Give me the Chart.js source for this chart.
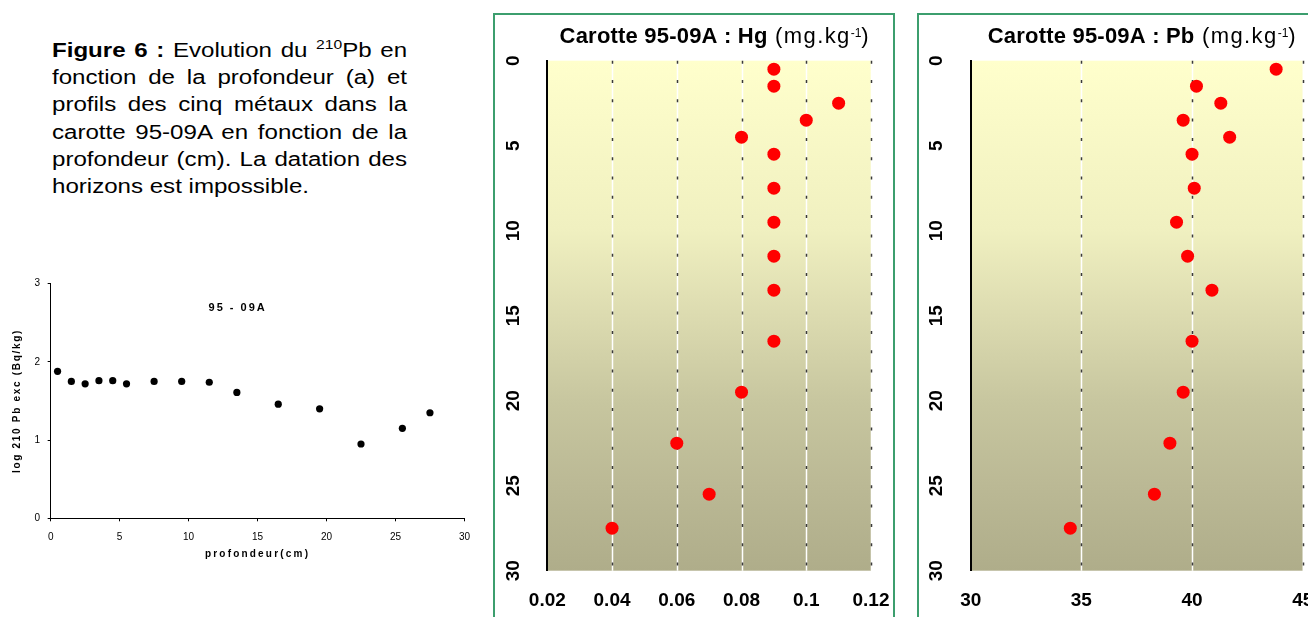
<!DOCTYPE html>
<html>
<head>
<meta charset="utf-8">
<script src="https://cdn.jsdelivr.net/npm/chart.js@4/dist/chart.umd.min.js"></script>
<style>
  html, body { margin: 0; padding: 0; background: #fff; }
  body { width: 1308px; height: 617px; position: relative; overflow: hidden;
         font-family: "Liberation Sans", Arial, sans-serif; color: #000; }
  .caption { position: absolute; left: 52px; top: 37px; width: 287.5px;
             font-size: 19.5px; line-height: 27.2px;
             transform: scaleX(1.235); transform-origin: 0 0; }
  .caption .j { text-align: justify; text-align-last: justify; }
  .caption sup { font-size: 0.65em; line-height: 0; vertical-align: 0; position: relative; top: -0.62em; }
  .box { position: absolute; top: 13px; height: 640px; border: 2px solid #3c9e6e; }
  canvas { position: absolute; }
</style>
</head>
<body>

<div class="caption">
  <div class="j"><b>Figure 6 :</b> Evolution du <sup>210</sup>Pb en</div>
  <div class="j">fonction de la profondeur (a) et</div>
  <div class="j">profils des cinq métaux dans la</div>
  <div class="j">carotte 95-09A en fonction de la</div>
  <div class="j">profondeur (cm). La datation des</div>
  <div>horizons est impossible.</div>
</div>

<canvas id="pb210" width="480" height="300" style="left:0;top:270px;"></canvas>

<div class="box" style="left:493px;width:398px;"></div>
<canvas id="hg" width="398" height="640" style="left:495px;top:15px;"></canvas>

<div class="box" style="left:917px;width:400px;"></div>
<canvas id="pb" width="400" height="640" style="left:919px;top:15px;"></canvas>

<script>
const FAMILY = "'Liberation Sans', Arial, sans-serif";
Chart.defaults.font.family = FAMILY;
Chart.defaults.color = '#000';

// sampling depths (cm), shared by all profiles of core 95-09A
const depth = [0.5, 1.5, 2.5, 3.5, 4.5, 5.5, 7.5, 9.5, 11.5, 13.5, 16.5, 19.5, 22.5, 25.5, 27.5];
// log of excess 210Pb activity (Bq/kg)
const logPb210 = [1.88, 1.75, 1.72, 1.76, 1.76, 1.72, 1.75, 1.75, 1.74, 1.61, 1.46, 1.40, 0.95, 1.15, 1.35];
// metal contents (mg/kg)
const hgValues = [0.09, 0.09, 0.11, 0.10, 0.08, 0.09, 0.09, 0.09, 0.09, 0.09, 0.09, 0.08, 0.06, 0.07, 0.04];
const pbValues = [43.8, 40.2, 41.3, 39.6, 41.7, 40.0, 40.1, 39.3, 39.8, 40.9, 40.0, 39.6, 39.0, 38.3, 34.5];

// tick values
const depthTicks = [0, 5, 10, 15, 20, 25, 30];
const logTicks = [0, 1, 2, 3];
const hgTicks = [0.02, 0.04, 0.06, 0.08, 0.1, 0.12];
const pbTicks = [30, 35, 40, 45];

const setTicks = values => scale => { scale.ticks = values.map(v => ({value: v})); };
const points = (xs, ys) => xs.map((x, i) => ({x: x, y: ys[i]}));

// yellow-to-olive plot background with white/dashed vertical grid
const profileBackground = {
  id: 'profileBackground',
  beforeDraw(chart) {
    const {ctx, chartArea: a, scales: {x}} = chart;
    ctx.save();
    const g = ctx.createLinearGradient(0, a.top, 0, a.bottom);
    g.addColorStop(0, '#ffffcc');
    g.addColorStop(0.33, '#f0f0c0');
    g.addColorStop(0.5, '#dcdbb0');
    g.addColorStop(0.67, '#c7c69f');
    g.addColorStop(0.83, '#bbb995');
    g.addColorStop(1, '#afad8a');
    ctx.fillStyle = g;
    ctx.fillRect(a.left, a.top, a.right - a.left, a.bottom - a.top);
    x.ticks.forEach(t => {
      if (t.value === x.min) return;
      const px = Math.round(x.getPixelForValue(t.value)) + 0.5;
      ctx.lineWidth = 1.5;
      ctx.strokeStyle = '#ffffff';
      ctx.setLineDash([]);
      ctx.beginPath(); ctx.moveTo(px, a.top); ctx.lineTo(px, a.bottom); ctx.stroke();
      ctx.strokeStyle = '#3a3a3a';
      ctx.setLineDash([3, 16.3]);
      ctx.beginPath(); ctx.moveTo(px, a.top); ctx.lineTo(px, a.bottom); ctx.stroke();
    });
    ctx.restore();
  }
};

// depth labels on the left, rotated to read upwards
const depthLabels = {
  id: 'depthLabels',
  afterDraw(chart) {
    const {ctx, chartArea: a, scales: {y}} = chart;
    ctx.save();
    ctx.font = 'bold 19px ' + FAMILY;
    ctx.fillStyle = '#000';
    ctx.textAlign = 'center';
    ctx.textBaseline = 'middle';
    depthTicks.forEach(v => {
      ctx.save();
      ctx.translate(a.left - 34, y.getPixelForValue(v));
      ctx.rotate(-Math.PI / 2);
      ctx.fillText(String(v), 0, 0);
      ctx.restore();
    });
    ctx.restore();
  }
};

// "Carotte 95-09A : Xx (mg.kg-1)" with bold core name and superscript unit
const panelTitle = {
  id: 'panelTitle',
  afterDraw(chart, args, opts) {
    const {ctx, chartArea: a} = chart;
    const parts = [
      {text: opts.text, font: 'bold 22px ' + FAMILY, dy: 0, ls: 0.2},
      {text: ' (mg.kg', font: '22px ' + FAMILY, dy: 0, ls: 1.4},
      {text: '-1', font: '12px ' + FAMILY, dy: -6, ls: 0},
      {text: ')', font: '22px ' + FAMILY, dy: 0, ls: 0}
    ];
    ctx.save();
    let w = 0;
    parts.forEach(p => {
      ctx.font = p.font;
      ctx.letterSpacing = p.ls + 'px';
      p.w = ctx.measureText(p.text).width;
      w += p.w;
    });
    let x = (a.left + a.right) / 2 + 5 - w / 2;
    const y = a.top - 17.4;
    ctx.fillStyle = '#000';
    ctx.textAlign = 'left';
    ctx.textBaseline = 'alphabetic';
    parts.forEach(p => {
      ctx.font = p.font;
      ctx.letterSpacing = p.ls + 'px';
      ctx.fillText(p.text, x, y + p.dy);
      x += p.w;
    });
    ctx.restore();
  }
};

function profileChart(id, title, values, ticks, min, max, pad) {
  return new Chart(document.getElementById(id), {
    type: 'scatter',
    data: {
      datasets: [{
        data: points(values, depth),
        pointRadius: 6.5,
        pointHoverRadius: 6.5,
        backgroundColor: '#ff0000',
        borderWidth: 0
      }]
    },
    options: {
      responsive: false,
      animation: false,
      layout: {autoPadding: false, padding: pad},
      plugins: {
        legend: {display: false},
        tooltip: {enabled: false},
        panelTitle: {text: title}
      },
      scales: {
        x: {
          type: 'linear', position: 'bottom', min: min, max: max,
          afterBuildTicks: setTicks(ticks),
          ticks: {font: {size: 19, weight: 'bold'}, color: '#000', padding: 0,
                  maxRotation: 0, callback: v => String(v)},
          // invisible tick marks keep the labels clear of the plot
          grid: {display: true, drawOnChartArea: false, drawTicks: true,
                 tickLength: 19, color: 'rgba(0,0,0,0)'},
          border: {display: false}
        },
        y: {
          type: 'linear', position: 'left', min: 0, max: 30, reverse: true,
          ticks: {display: false},
          grid: {display: false, drawTicks: false},
          border: {display: true, color: '#000', width: 2}
        }
      }
    },
    plugins: [profileBackground, depthLabels, panelTitle]
  });
}

profileChart('hg', 'Carotte 95-09A : Hg', hgValues, hgTicks, 0.02, 0.12,
             {left: 52.3, top: 45.7, right: 22, bottom: 42.5});
profileChart('pb', 'Carotte 95-09A : Pb', pbValues, pbTicks, 30, 45,
             {left: 51.7, top: 45.7, right: 16.3, bottom: 42.5});

// axis captions and inner title of the 210Pb plot, letter-spaced
const pbCaptions = {
  id: 'pbCaptions',
  afterDraw(chart) {
    const {ctx, chartArea: a} = chart;
    ctx.save();
    ctx.fillStyle = '#000';
    ctx.textAlign = 'center';
    ctx.textBaseline = 'middle';
    ctx.font = 'bold 11px ' + FAMILY;
    ctx.letterSpacing = '2px';
    ctx.fillText('95 - 09A', a.left + 187, a.top + 24);
    ctx.font = 'bold 10px ' + FAMILY;
    ctx.letterSpacing = '2.2px';
    ctx.fillText('profondeur(cm)', (a.left + a.right) / 2, a.bottom + 35.7);
    ctx.letterSpacing = '1.7px';
    ctx.translate(a.left - 33.2, (a.top + a.bottom) / 2);
    ctx.rotate(-Math.PI / 2);
    ctx.fillText('log 210 Pb exc (Bq/kg)', 0, 0);
    ctx.restore();
  }
};

new Chart(document.getElementById('pb210'), {
  type: 'scatter',
  data: {
    datasets: [{
      data: points(depth, logPb210),
      pointRadius: 3.6,
      pointHoverRadius: 3.6,
      backgroundColor: '#000',
      borderWidth: 0
    }]
  },
  options: {
    responsive: false,
    animation: false,
    layout: {autoPadding: false, padding: {left: 26.7, top: 10, right: 13.3, bottom: 16.7}},
    plugins: {legend: {display: false}, tooltip: {enabled: false}},
    scales: {
      x: {
        type: 'linear', min: 0, max: 30,
        afterBuildTicks: setTicks(depthTicks),
        ticks: {font: {size: 10}, color: '#000', padding: 10, maxRotation: 0},
        grid: {drawOnChartArea: false, color: '#000', tickLength: 3},
        border: {color: '#000', width: 1}
      },
      y: {
        type: 'linear', min: 0, max: 3,
        afterBuildTicks: setTicks(logTicks),
        ticks: {font: {size: 10}, color: '#000', padding: 7.7},
        grid: {drawOnChartArea: false, color: '#000', tickLength: 3},
        border: {color: '#000', width: 1}
      }
    }
  },
  plugins: [pbCaptions]
});
</script>
</body>
</html>
